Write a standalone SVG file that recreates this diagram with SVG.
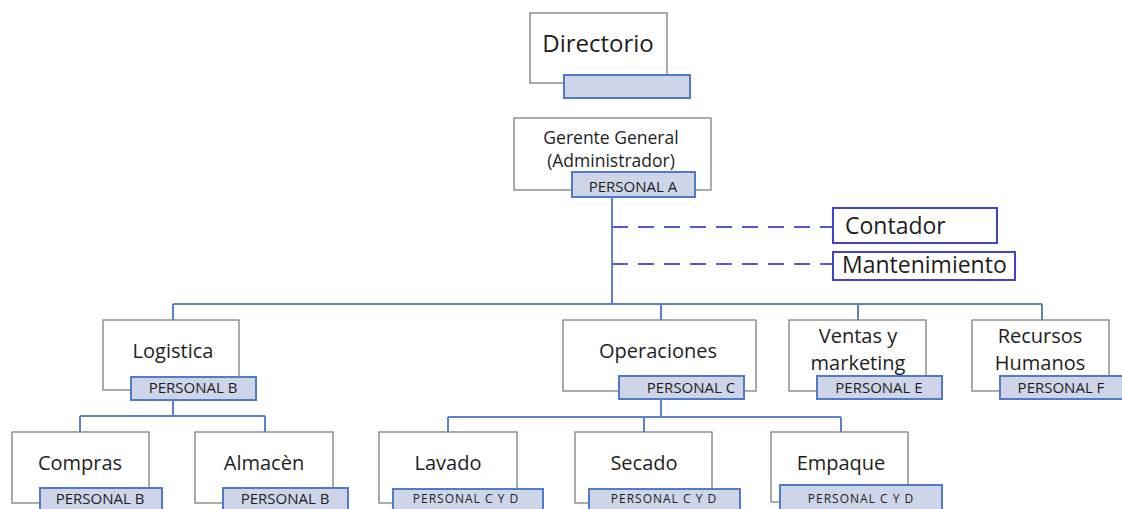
<svg xmlns="http://www.w3.org/2000/svg" width="1122" height="509" viewBox="0 0 1122 509">
<style>
.box{fill:#fff;stroke:#7f7f7f;stroke-width:1.3}
.tag{fill:#cfd5e8;stroke:#4f7bcc;stroke-width:2}
.conn{fill:none;stroke:#5b83c9;stroke-width:2}
.dash{fill:none;stroke:#5558d8;stroke-width:1.8;stroke-dasharray:16 10}
.side{fill:#fff;stroke:#3f43d0;stroke-width:2}
text{font-family:"Open Sans","Liberation Sans",sans-serif;fill:#1e1e1e;text-anchor:middle}
.t1{font-size:23px}
.t2{font-size:20px}
.tgm{font-size:17.5px}
.tg{font-size:15px}
.ts{font-size:12px;letter-spacing:1px}
</style>
<rect width="1122" height="509" fill="#fff"/>
<g id="connectors">
<path class="conn" d="M612 197V303M173 304H1042M173 304V320M661 304V320M858 304V320M1042 304V320"/>
<path class="conn" d="M173 400V416M80 416H265M80 416V432M265 416V432"/>
<path class="conn" d="M661 399V417M448 417H841M448 417V432M644 417V432M841 417V432"/>
<path class="dash" d="M612 227H833M612 264H833"/>
</g>
<g id="directorio"><rect class="box" x="530" y="13" width="137" height="70"/><rect class="tag" x="564" y="75" width="126" height="23"/><text class="t1" x="598" y="52" style="font-size:24px">Directorio</text></g>
<g id="gerente"><rect class="box" x="514" y="118" width="197" height="72"/><text class="tgm" x="611" y="144">Gerente General</text><text class="tgm" x="611" y="167">(Administrador)</text><rect class="tag" x="572" y="172" width="123" height="25"/><text class="tg" x="633" y="192">PERSONAL A</text></g>
<g id="contador"><rect class="side" x="833" y="208" width="164" height="35"/><text class="t1" x="845" y="234" style="text-anchor:start">Contador</text></g>
<g id="mantenimiento"><rect class="side" x="833" y="252" width="182" height="28"/><text class="t1" x="842" y="273" style="text-anchor:start">Mantenimiento</text></g>
<g id="logistica"><rect class="box" x="103" y="320" width="136" height="70"/><text class="t2" x="173" y="358">Logistica</text><rect class="tag" x="131" y="377" width="125" height="23"/><text class="tg" x="193" y="393">PERSONAL B</text></g>
<g id="operaciones"><rect class="box" x="563" y="320" width="193" height="71"/><text class="t2" x="658" y="358">Operaciones</text><rect class="tag" x="619" y="376" width="125" height="23"/><text class="tg" x="691" y="393">PERSONAL C</text></g>
<g id="ventas"><rect class="box" x="789" y="320" width="137" height="71"/><text class="t2" x="858" y="343">Ventas y</text><text class="t2" x="858" y="370">marketing</text><rect class="tag" x="817" y="376" width="125" height="23"/><text class="tg" x="879" y="393">PERSONAL E</text></g>
<g id="rrhh"><rect class="box" x="972" y="320" width="137" height="71"/><text class="t2" x="1040" y="343">Recursos</text><text class="t2" x="1040" y="370">Humanos</text><rect class="tag" x="1000" y="376" width="125" height="23"/><text class="tg" x="1061" y="393">PERSONAL F</text></g>
<g id="compras"><rect class="box" x="12" y="432" width="137" height="71"/><text class="t2" x="80" y="470">Compras</text><rect class="tag" x="40" y="488" width="122" height="25"/><text class="tg" x="100" y="504">PERSONAL B</text></g>
<g id="almacen"><rect class="box" x="195" y="432" width="138" height="71"/><text class="t2" x="264" y="470">Almacèn</text><rect class="tag" x="223" y="488" width="125" height="25"/><text class="tg" x="285" y="504">PERSONAL B</text></g>
<g id="lavado"><rect class="box" x="379" y="432" width="138" height="71"/><text class="t2" x="448" y="470">Lavado</text><rect class="tag" x="393" y="489" width="150" height="25"/><text class="ts" x="466" y="503">PERSONAL C Y D</text></g>
<g id="secado"><rect class="box" x="575" y="432" width="137" height="71"/><text class="t2" x="644" y="470">Secado</text><rect class="tag" x="589" y="489" width="151" height="25"/><text class="ts" x="664" y="503">PERSONAL C Y D</text></g>
<g id="empaque"><rect class="box" x="771" y="432" width="137" height="70"/><text class="t2" x="841" y="470">Empaque</text><rect class="tag" x="780" y="485" width="162" height="28"/><text class="ts" x="861" y="503">PERSONAL C Y D</text></g>
</svg>
